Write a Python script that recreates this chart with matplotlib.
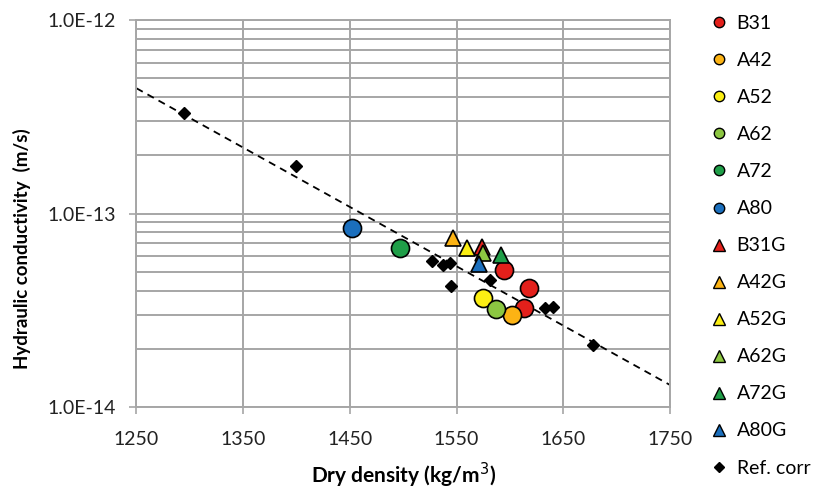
import matplotlib
matplotlib.use("Agg")
import matplotlib.pyplot as plt
from matplotlib.ticker import FixedLocator, LogLocator, FuncFormatter, NullFormatter

plt.rcParams['font.family'] = ['Lato', 'DejaVu Sans']

# series (dry density kg/m3, hydraulic conductivity m/s)
b31_x = [1594, 1618, 1613]
b31_y = [5.10e-14, 4.11e-14, 3.24e-14]
a42_x = [1602]
a42_y = [2.99e-14]
a52_x = [1575]
a52_y = [3.65e-14]
a62_x = [1587]
a62_y = [3.20e-14]
a72_x = [1497]
a72_y = [6.61e-14]
a80_x = [1452]
a80_y = [8.38e-14]

b31g_x = [1574]
b31g_y = [6.74e-14]
a42g_x = [1547]
a42g_y = [7.44e-14]
a52g_x = [1560]
a52g_y = [6.61e-14]
a62g_x = [1575]
a62g_y = [6.27e-14]
a72g_x = [1592]
a72g_y = [6.10e-14]
a80g_x = [1571]
a80g_y = [5.48e-14]

ref_x = [1295, 1400, 1527, 1537, 1544, 1545, 1581, 1633, 1640, 1678]
ref_y = [3.31e-13, 1.76e-13, 5.68e-14, 5.42e-14, 5.55e-14, 4.22e-14, 4.53e-14, 3.25e-14, 3.29e-14, 2.09e-14]

# dashed correlation line (end points)
trend_x = [1250, 1750]
trend_y = [4.44e-13, 1.30e-14]

x_ticks = [1250, 1350, 1450, 1550, 1650, 1750]
y_ticks = [1e-14, 1e-13, 1e-12]

colors = {
    'red': '#e3201b', 'orange': '#fcb314', 'yellow': '#fbee13',
    'lgreen': '#8cc641', 'green': '#1f9e48', 'blue': '#1b6fbd',
}

fig = plt.figure(figsize=(8.13, 4.93), dpi=100)
ax = fig.add_axes([0.1678, 0.1744, 0.6563, 0.785])

grid_c = '#a6a6a6'

ax.plot(trend_x, trend_y, color='black', ls=(0, (4, 3)), lw=1.3, zorder=2)

circ = [('B31', b31_x, b31_y, 'red'), ('A42', a42_x, a42_y, 'orange'),
        ('A52', a52_x, a52_y, 'yellow'), ('A62', a62_x, a62_y, 'lgreen'),
        ('A72', a72_x, a72_y, 'green'), ('A80', a80_x, a80_y, 'blue')]
tri = [('B31G', b31g_x, b31g_y, 'red'), ('A42G', a42g_x, a42g_y, 'orange'),
       ('A52G', a52g_x, a52g_y, 'yellow'), ('A62G', a62g_x, a62g_y, 'lgreen'),
       ('A72G', a72g_x, a72g_y, 'green'), ('A80G', a80g_x, a80g_y, 'blue')]

handles = []
for name, xs, ys, c in circ:
    ax.plot(xs, ys, 'o', ms=13, mfc=colors[c], mec='black', mew=1.2, zorder=3)
    h, = ax.plot([], [], 'o', ms=7.5, mfc=colors[c], mec='black', mew=1.0, label=name)
    handles.append(h)
for name, xs, ys, c in tri:
    ax.plot(xs, ys, '^', ms=12, mfc=colors[c], mec='black', mew=1.2, zorder=3)
    h, = ax.plot([], [], '^', ms=8, mfc=colors[c], mec='black', mew=1.0, label=name)
    handles.append(h)
ax.plot(ref_x, ref_y, 'D', ms=6.5, color='black', zorder=4)
h, = ax.plot([], [], 'D', ms=5, color='black', label='Ref. corr')
handles.append(h)

ax.set_yscale('log')
ax.set_xlim(1250, 1750)
ax.set_ylim(1e-14, 1e-12)
ax.xaxis.set_major_locator(FixedLocator(x_ticks))
ax.yaxis.set_major_locator(FixedLocator(y_ticks))
ax.yaxis.set_minor_locator(LogLocator(base=10, subs=range(2, 10)))
ax.yaxis.set_major_formatter(FuncFormatter(lambda v, p: '%.1E' % v))
ax.yaxis.set_minor_formatter(NullFormatter())

ax.grid(True, which='major', color=grid_c, lw=1.4)
ax.grid(True, which='minor', axis='y', color=grid_c, lw=1.4)
for s in ax.spines.values():
    s.set_color(grid_c)
    s.set_linewidth(1.4)
ax.tick_params(axis='both', which='major', direction='out', length=5, width=1.2,
               color=grid_c, labelsize=14, labelcolor='#222222')
ax.tick_params(axis='x', pad=12)
ax.tick_params(axis='y', pad=10)
ax.tick_params(axis='y', which='minor', length=0)

ax.set_xlabel('Dry density (kg/m$^3$)', fontsize=15, fontweight='bold')
ax.set_ylabel('Hydraulic conductivity  (m/s)', fontsize=13.5, fontweight='bold')
ax.xaxis.set_label_coords(0.5, -0.14)
ax.yaxis.set_label_coords(-0.1975, 0.41)

fig.legend(handles=handles, loc='upper left', bbox_to_anchor=(0.863, 0.985),
           frameon=False, fontsize=14, labelspacing=1.03, handlelength=1.0,
           handletextpad=0.4, borderaxespad=0)

fig.savefig('out.png', dpi=100)
